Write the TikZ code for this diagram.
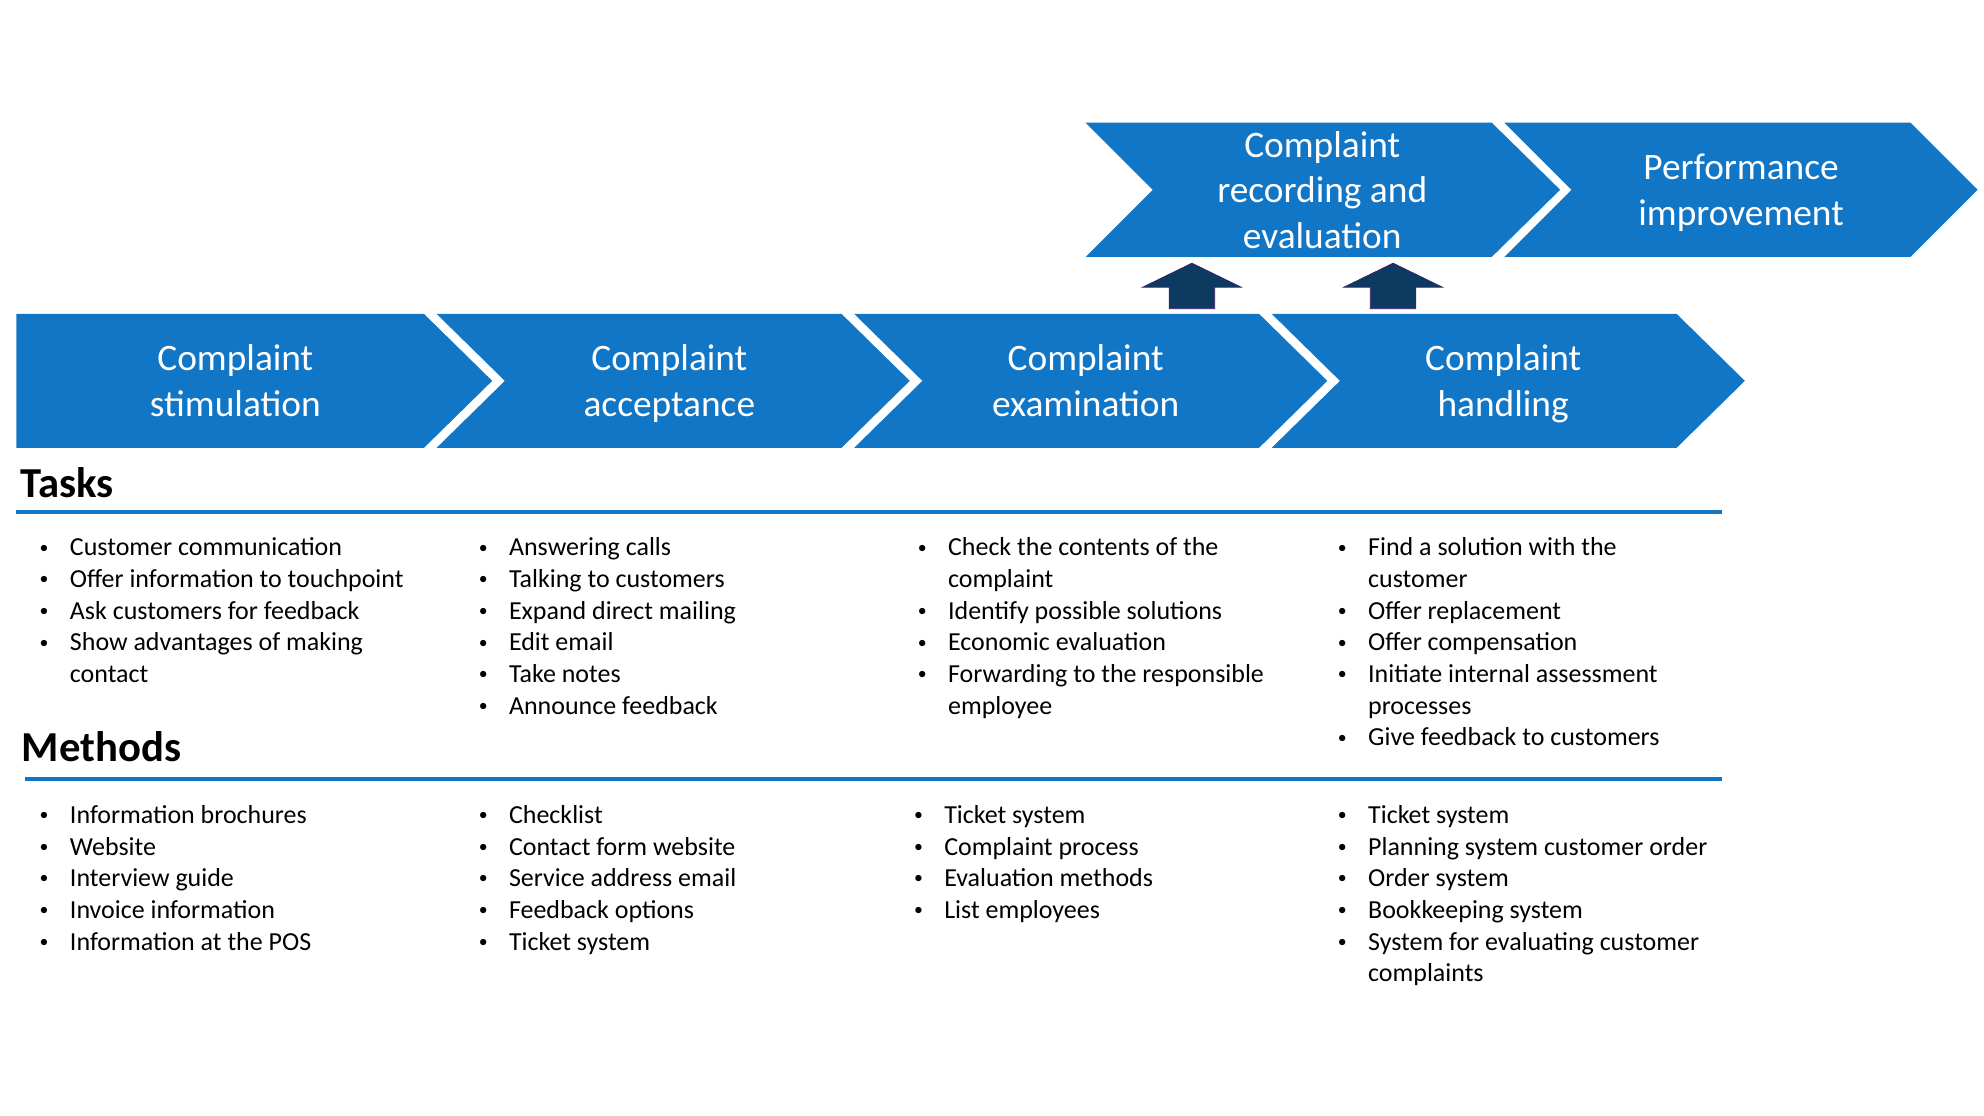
\documentclass[tikz,border=0pt]{standalone}
\usepackage{fontspec}
\setmainfont{Carlito}
\definecolor{chevblue}{HTML}{1276C6}
\definecolor{arrnavy}{HTML}{0C3A61}
\definecolor{arredge}{HTML}{3C1E66}
\newcommand{\bul}{\makebox[0.65cm][l]{\hspace{1.5pt}{\fontsize{10}{10}\selectfont\raisebox{1.6pt}{•}}}}
\newcommand{\cont}{\hspace*{0.65cm}}
\tikzset{
  chevtext/.style={text=white, align=center, inner sep=0pt, font=\fontsize{21}{25.6}\selectfont},
  headtext/.style={anchor=base west, inner sep=0pt, font=\fontsize{24}{29}\selectfont\bfseries},
  blist/.style={anchor=north west, inner sep=0pt, font=\fontsize{14.6}{17.8}\selectfont},
  rule/.style={draw=chevblue, line width=0.08cm},
}

\begin{document}
\begin{tikzpicture}[x=0.025cm, y=-0.025cm]
            \useasboundingbox (0,0) rectangle (1568,882);
            % process chevrons
            \fill[chevblue] (13,248) -- (335,248) -- (389,301) -- (335,354) -- (13,354) -- cycle;
            \foreach \a in {345,675,1005}
                \fill[chevblue] (\a,248) -- ++(320,0) -- ++(54,53) -- ++(-54,53) -- ++(-320,0) -- ++(54,-53) -- cycle;
            \fill[chevblue] (858,97) -- (1179,97) -- (1233,150) -- (1179,203) -- (858,203) -- (911,150) -- cycle;
            \fill[chevblue] (1189,97) -- (1510,97) -- (1563,150) -- (1510,203) -- (1189,203) -- (1242,150) -- cycle;
            \foreach \x in {942,1101}
                \filldraw[fill=arrnavy, draw=arredge, line width=0.4pt] (\x-18,244) -- (\x-18,227) -- (\x-39,227) -- (\x,208) -- (\x+39,227) -- (\x+18,227) -- (\x+18,244) -- cycle;

            \node[chevtext] (stim) at (186,304) {Complaint\strut\\stimulation\strut};
            \node[chevtext] (accept) at (529,304) {Complaint\strut\\acceptance\strut};
            \node[chevtext] (exam) at (858,304) {Complaint\strut\\examination\strut};
            \node[chevtext] (handl) at (1188,304) {Complaint\strut\\handling\strut};
            \node[chevtext] (record) at (1045,153) {Complaint\strut\\recording and\\evaluation\strut};
            \node[chevtext] (perf) at (1376,153) {Performance\strut\\improvement\strut};

            % headings
            \node[headtext] (tasks) at (16,393) {Tasks};
            \node[headtext] (methods) at (17,602) {Methods};
            \draw[rule] (13,405) -- (1361,405);
            \draw[rule] (20,616) -- (1361,616);

            % tasks
            \node[blist] (t1) at (29,421.5) {\begin{tabular}{@{}l@{}}
                \bul Customer communication\\
                \bul Offer information to touchpoint\\
                \bul Ask customers for feedback\\
                \bul Show advantages of making\\
                \cont contact
            \end{tabular}};
            \node[blist] (t2) at (376,421.5) {\begin{tabular}{@{}l@{}}
                \bul Answering calls\\
                \bul Talking to customers\\
                \bul Expand direct mailing\\
                \bul Edit email\\
                \bul Take notes\\
                \bul Announce feedback
            \end{tabular}};
            \node[blist] (t3) at (723,421.5) {\begin{tabular}{@{}l@{}}
                \bul Check the contents of the\\
                \cont complaint\\
                \bul Identify possible solutions\\
                \bul Economic evaluation\\
                \bul Forwarding to the responsible\\
                \cont employee
            \end{tabular}};
            \node[blist] (t4) at (1055,421.5) {\begin{tabular}{@{}l@{}}
                \bul Find a solution with the\\
                \cont customer\\
                \bul Offer replacement\\
                \bul Offer compensation\\
                \bul Initiate internal assessment\\
                \cont processes\\
                \bul Give feedback to customers
            \end{tabular}};

            % methods
            \node[blist] (m1) at (29,633) {\begin{tabular}{@{}l@{}}
                \bul Information brochures\\
                \bul Website\\
                \bul Interview guide\\
                \bul Invoice information\\
                \bul Information at the POS
            \end{tabular}};
            \node[blist] (m2) at (376,633) {\begin{tabular}{@{}l@{}}
                \bul Checklist\\
                \bul Contact form website\\
                \bul Service address email\\
                \bul Feedback options\\
                \bul Ticket system
            \end{tabular}};
            \node[blist] (m3) at (720,633) {\begin{tabular}{@{}l@{}}
                \bul Ticket system\\
                \bul Complaint process\\
                \bul Evaluation methods\\
                \bul List employees
            \end{tabular}};
            \node[blist] (m4) at (1055,633) {\begin{tabular}{@{}l@{}}
                \bul Ticket system\\
                \bul Planning system customer order\\
                \bul Order system\\
                \bul Bookkeeping system\\
                \bul System for evaluating customer\\
                \cont complaints
            \end{tabular}};
        \end{tikzpicture}
\end{document}
